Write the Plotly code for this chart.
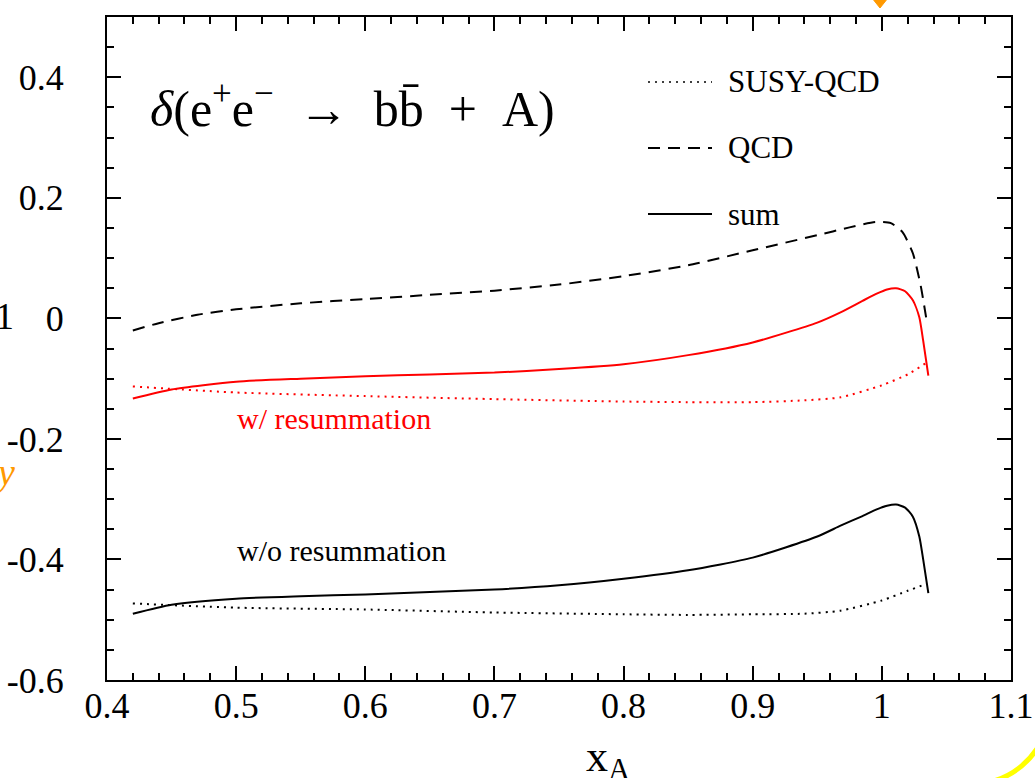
import plotly.graph_objects as go

# ---- data ----
x_qcd = [0.42, 0.44, 0.47, 0.5, 0.55, 0.6, 0.65, 0.7, 0.75, 0.8, 0.85, 0.9, 0.95, 0.975, 0.995, 1.007, 1.016, 1.024, 1.03, 1.035]
qcd = [-0.02, -0.008, 0.006, 0.015, 0.025, 0.032, 0.039, 0.046, 0.056, 0.07, 0.088, 0.113, 0.138, 0.151, 0.16, 0.158, 0.143, 0.108, 0.055, -0.008]

x_sum = [0.42, 0.45, 0.5, 0.55, 0.6, 0.65, 0.7, 0.75, 0.8, 0.85, 0.9, 0.95, 0.968, 0.985, 0.996, 1.004, 1.011, 1.018, 1.024, 1.029, 1.032, 1.036]
sum_resum = [-0.133, -0.118, -0.105, -0.1, -0.096, -0.093, -0.09, -0.084, -0.076, -0.061, -0.04, -0.007, 0.01, 0.029, 0.041, 0.048, 0.05, 0.045, 0.03, 0.002, -0.037, -0.095]
sum_noresum = [-0.49, -0.475, -0.465, -0.461, -0.458, -0.454, -0.45, -0.443, -0.432, -0.418, -0.397, -0.362, -0.344, -0.328, -0.317, -0.311, -0.309, -0.314, -0.329, -0.362, -0.4, -0.456]

x_susy = [0.42, 0.5, 0.6, 0.7, 0.8, 0.85, 0.9, 0.94, 0.968, 1.0, 1.02, 1.035]
susy_resum = [-0.113, -0.123, -0.129, -0.134, -0.138, -0.139, -0.139, -0.136, -0.131, -0.111, -0.093, -0.073]
susy_noresum = [-0.473, -0.48, -0.483, -0.488, -0.491, -0.492, -0.491, -0.49, -0.485, -0.468, -0.452, -0.44]

y_tickvals = [-0.6, -0.4, -0.2, 0, 0.2, 0.4]
y_ticktext = ["-0.6", "-0.4", "-0.2", "0", "0.2", "0.4"]
x_tickvals = [0.4, 0.5, 0.6, 0.7, 0.8, 0.9, 1.0, 1.1]
x_ticktext = ["0.4", "0.5", "0.6", "0.7", "0.8", "0.9", "1", "1.1"]

FONT = "Liberation Serif, Times New Roman, serif"
DOT = "2px,5px"
DASH = "12px,8px"
SPL = dict(shape="spline", smoothing=0.6)

fig = go.Figure()
fig.add_trace(go.Scatter(x=x_qcd, y=qcd, mode="lines", line=dict(color="black", width=2, dash=DASH, **SPL), showlegend=False))
fig.add_trace(go.Scatter(x=x_susy, y=susy_resum, mode="lines", line=dict(color="red", width=2, dash=DOT, **SPL), showlegend=False))
fig.add_trace(go.Scatter(x=x_sum, y=sum_resum, mode="lines", line=dict(color="red", width=2, **SPL), showlegend=False))
fig.add_trace(go.Scatter(x=x_susy, y=susy_noresum, mode="lines", line=dict(color="black", width=2, dash=DOT, **SPL), showlegend=False))
fig.add_trace(go.Scatter(x=x_sum, y=sum_noresum, mode="lines", line=dict(color="black", width=2, **SPL), showlegend=False))

L, T, W, H = 107, 17, 904, 663
def px(xp):
    return (xp - L) / W
def py(yp):
    return (T + H - yp) / H

axis_common = dict(
    showline=True, linecolor="black", linewidth=2, mirror="allticks",
    ticks="inside", ticklen=14, tickwidth=2, tickcolor="black",
    showgrid=False, zeroline=False, automargin=False,
    tickfont=dict(family=FONT, size=36, color="black"),
)

fig.update_xaxes(range=[0.4, 1.1], tickmode="array", tickvals=x_tickvals, ticktext=x_ticktext,
                 minor=dict(tick0=0.4, dtick=0.02, ticks="inside", ticklen=7, tickwidth=2, tickcolor="black", showgrid=False),
                 ticklabelstandoff=-7, **axis_common)
fig.update_yaxes(range=[-0.6, 0.5], tickmode="array", tickvals=y_tickvals, ticktext=y_ticktext,
                 minor=dict(tick0=0, dtick=0.05, ticks="inside", ticklen=7, tickwidth=2, tickcolor="black", showgrid=False),
                 ticklabelstandoff=34, **axis_common)

shapes = []
# legend samples
for yy, dash in [(82, DOT), (148, DASH), (214, "solid")]:
    shapes.append(dict(type="line", xref="paper", yref="paper", x0=px(648), x1=px(712), y0=py(yy), y1=py(yy),
                       line=dict(color="black", width=2 if dash != DOT else 1.5, dash=dash)))
# orange marker at top
shapes.append(dict(type="path", xref="paper", yref="paper",
                   path=f"M {px(872)} {py(-2)} L {px(888)} {py(-2)} L {px(880)} {py(8)} Z",
                   fillcolor="#FF9900", line=dict(color="#FF9900", width=1)))
# yellow arc bottom right
shapes.append(dict(type="path", xref="paper", yref="paper",
                   path=f"M {px(990)} {py(782)} Q {px(1022)} {py(774)} {px(1040)} {py(744)}",
                   line=dict(color="#FFFF00", width=5)))

title_txt = ("<i>δ</i>(e<sup>+</sup>e<sup>−</sup>&nbsp;&nbsp;→&nbsp;&nbsp;bb̄&nbsp;&nbsp;+&nbsp;&nbsp;A)")

annotations = [
    dict(text=title_txt, x=px(148), y=py(106), xref="paper", yref="paper",
         xanchor="left", yanchor="middle", showarrow=False, font=dict(family=FONT, size=50, color="black")),
    dict(text="SUSY-QCD", x=px(726), y=py(82), xref="paper", yref="paper", xanchor="left", yanchor="middle",
         showarrow=False, font=dict(family=FONT, size=31, color="black")),
    dict(text="QCD", x=px(726), y=py(148), xref="paper", yref="paper", xanchor="left", yanchor="middle",
         showarrow=False, font=dict(family=FONT, size=31, color="black")),
    dict(text="sum", x=px(726), y=py(214), xref="paper", yref="paper", xanchor="left", yanchor="middle",
         showarrow=False, font=dict(family=FONT, size=31, color="black")),
    dict(text="w/ resummation", x=px(235), y=py(418), xref="paper", yref="paper", xanchor="left", yanchor="middle",
         showarrow=False, font=dict(family=FONT, size=30, color="red")),
    dict(text="w/o resummation", x=px(235), y=py(550), xref="paper", yref="paper", xanchor="left", yanchor="middle",
         showarrow=False, font=dict(family=FONT, size=30, color="black")),
    dict(text="x<sub>A</sub>", x=px(608), y=py(730), xref="paper", yref="paper", xanchor="center", yanchor="top",
         showarrow=False, font=dict(family=FONT, size=44, color="black")),
    dict(text="1", x=px(16), y=py(316), xref="paper", yref="paper", xanchor="right", yanchor="middle",
         showarrow=False, font=dict(family=FONT, size=38, color="black")),
    dict(text="<i>y</i>", x=px(17), y=py(472), xref="paper", yref="paper", xanchor="right", yanchor="middle",
         showarrow=False, font=dict(family=FONT, size=38, color="#FF9900")),
]

fig.update_layout(
    width=1035, height=778,
    margin=dict(l=L, r=1035 - L - W, t=T, b=778 - T - H),
    paper_bgcolor="white", plot_bgcolor="white",
    shapes=shapes, annotations=annotations,
    showlegend=False,
)

fig.write_html("out.html")
